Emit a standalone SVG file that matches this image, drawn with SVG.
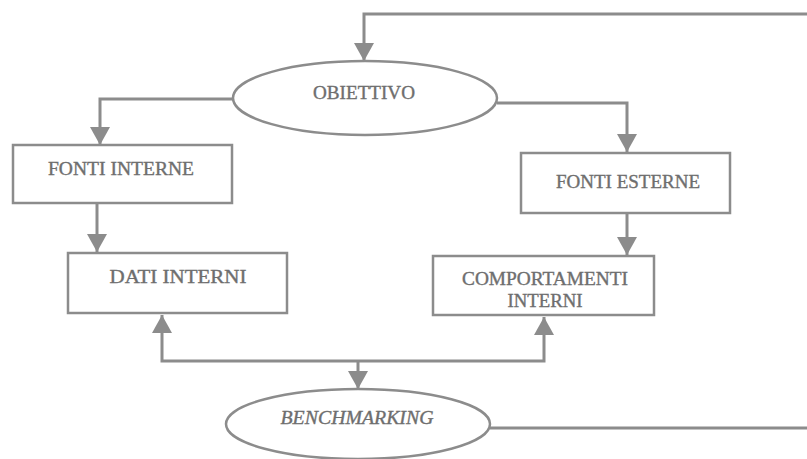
<svg xmlns="http://www.w3.org/2000/svg" width="807" height="459" viewBox="0 0 807 459">
<style>
.box{fill:none;stroke:#8c8c8c;stroke-width:2.5}
.conn{fill:none;stroke:#8c8c8c;stroke-width:3}
.lbl{font-family:"Liberation Serif","Times New Roman",serif;font-size:18px;fill:#6e6e6e;stroke:#6e6e6e;stroke-width:0.35;text-anchor:middle}
.it{font-style:italic}
</style>
<defs>
<marker id="ah" markerUnits="userSpaceOnUse" markerWidth="22" markerHeight="20" refX="18" refY="10" orient="auto-start-reverse">
<path d="M0,0 L18,10 L0,20 Z" fill="#8c8c8c"/>
</marker>
</defs>
<rect width="807" height="459" fill="#ffffff"/>
<g id="connectors">
<path class="conn" d="M807,14 H364 V61" marker-end="url(#ah)"/>
<path class="conn" d="M233,99 H100 V145" marker-end="url(#ah)"/>
<path class="conn" d="M497,103 H627 V152" marker-end="url(#ah)"/>
<path class="conn" d="M97,203 V252" marker-end="url(#ah)"/>
<path class="conn" d="M627,213 V255" marker-end="url(#ah)"/>
<path class="conn" d="M162,315 V361 H544 V317" marker-start="url(#ah)" marker-end="url(#ah)"/>
<path class="conn" d="M358,361 V389" marker-end="url(#ah)"/>
<path class="conn" d="M490,428 H807"/>
</g>
<g id="obiettivo">
<ellipse class="box" cx="365" cy="98" rx="132" ry="37"/>
<text class="lbl" x="364" y="99" textLength="102" lengthAdjust="spacingAndGlyphs">OBIETTIVO</text>
</g>
<g id="fonti-interne">
<rect class="box" x="13" y="145" width="219" height="58"/>
<text class="lbl" x="121" y="175" textLength="146" lengthAdjust="spacingAndGlyphs">FONTI  INTERNE</text>
</g>
<g id="fonti-esterne">
<rect class="box" x="521" y="153" width="209" height="60"/>
<text class="lbl" x="628" y="188" textLength="144" lengthAdjust="spacingAndGlyphs">FONTI  ESTERNE</text>
</g>
<g id="dati-interni">
<rect class="box" x="68" y="253" width="219" height="60"/>
<text class="lbl" x="178" y="283" textLength="137" lengthAdjust="spacingAndGlyphs">DATI  INTERNI</text>
</g>
<g id="comportamenti-interni">
<rect class="box" x="433" y="256" width="221" height="59"/>
<text class="lbl" x="545" y="285" textLength="166" lengthAdjust="spacingAndGlyphs">COMPORTAMENTI</text>
<text class="lbl" x="545" y="307" textLength="75" lengthAdjust="spacingAndGlyphs">INTERNI</text>
</g>
<g id="benchmarking">
<ellipse class="box" cx="358" cy="424" rx="132" ry="35"/>
<text class="lbl it" x="357" y="424" textLength="153" lengthAdjust="spacingAndGlyphs">BENCHMARKING</text>
</g>
</svg>
